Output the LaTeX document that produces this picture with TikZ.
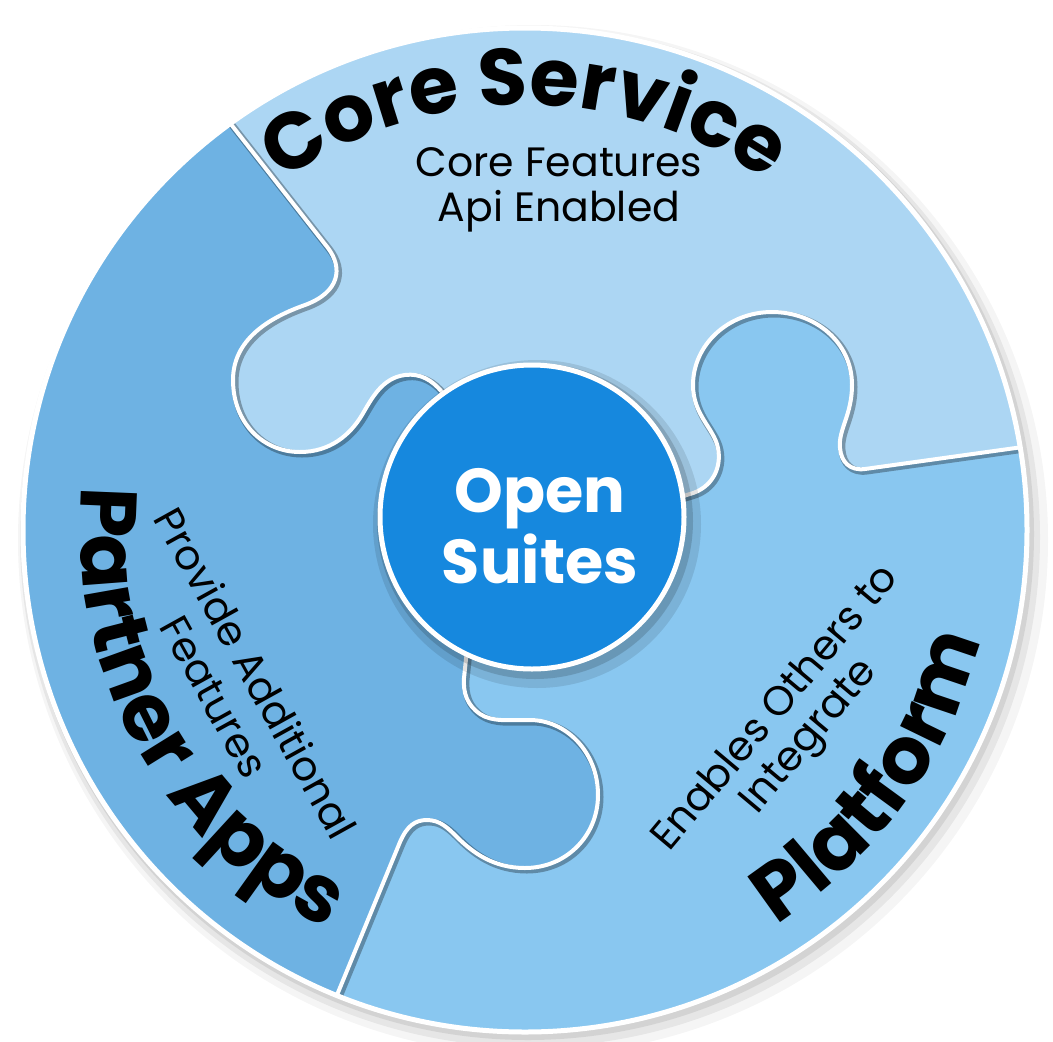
\documentclass[tikz,border=0pt]{standalone}
\usepackage{fontspec}
\setmainfont{Poppins}
\usetikzlibrary{decorations.text}
\definecolor{coreC}{RGB}{172,214,243}
\definecolor{partC}{RGB}{110,178,227}
\definecolor{platC}{RGB}{137,199,240}
\definecolor{hubC}{RGB}{22,136,222}
\newcommand\pzTitle{\fontsize{80}{84}\selectfont\bfseries}
\begin{document}
\begin{tikzpicture}[x=1pt,y=-1pt,
  bline/.style={draw=white, line width=4pt, line join=round},
  bshadow/.style={draw=black, opacity=0.3, line width=7pt, line join=round},
  subtxt/.style={font=\fontsize{41}{48}\selectfont, text=black, inner sep=0pt},
  titlepath/.style={decorate, decoration={text along path, text={|\pzTitle|#1}, text align=center}}
]
\useasboundingbox (0,0) rectangle (1053,1042);
\fill[white] (0,0) rectangle (1053,1042);
\coordinate (O) at (525,530);
\coordinate (H) at (532,517);
% outer soft shadow
\fill[black,opacity=0.04] (533,540) circle (515);
\fill[black,opacity=0.06] (530,537) circle (510);
\fill[black,opacity=0.08] (528,534) circle (506);
\begin{scope}
\clip (O) circle (502);
\fill[partC] (O) circle (510);
% Core Service piece
\fill[coreC] (208,95) -- (328,248) .. controls (343,268) and (340,292) .. (305,305)
  .. controls (268,318) and (233,340) .. (233,380)
  .. controls (233,423) and (263,452) .. (300,452)
  .. controls (330,452) and (350,435) .. (362,415)
  .. controls (372,398) and (382,378) .. (405,375)
  .. controls (420,373) and (432,380) .. (442,392) -- (455,410)
  -- (532,517) -- (670,500) -- (690,494)
  .. controls (712,488) and (722,468) .. (718,448)
  .. controls (714,428) and (693,415) .. (693,385)
  .. controls (693,345) and (728,312) .. (772,312)
  .. controls (815,312) and (852,342) .. (852,385)
  .. controls (852,415) and (838,430) .. (840,448)
  .. controls (841,462) and (850,471) .. (865,469)
  -- (1030,446) -- (1080,440) -- (1080,-20) -- (208,-20) -- cycle;
% Platform piece
\fill[platC] (670,500) -- (690,494)
  .. controls (712,488) and (722,468) .. (718,448)
  .. controls (714,428) and (693,415) .. (693,385)
  .. controls (693,345) and (728,312) .. (772,312)
  .. controls (815,312) and (852,342) .. (852,385)
  .. controls (852,415) and (838,430) .. (840,448)
  .. controls (841,462) and (850,471) .. (865,469)
  -- (1030,446) -- (1080,440) -- (1080,1080) -- (330,1080) -- (330,1012)
  -- (400,842) .. controls (407,826) and (415,820) .. (427,820)
  .. controls (440,820) and (448,828) .. (457,837)
  .. controls (472,852) and (493,868) .. (525,868)
  .. controls (566,868) and (598,836) .. (598,795)
  .. controls (598,752) and (566,720) .. (530,720)
  .. controls (508,720) and (492,722) .. (480,714)
  .. controls (467,705) and (463,693) .. (464,678) -- (468,640)
  -- (532,517) -- cycle;
% boundary shadows
\begin{scope}[shift={(2,2)}]
\draw[bshadow] (208,95) -- (328,248) .. controls (343,268) and (340,292) .. (305,305)
  .. controls (268,318) and (233,340) .. (233,380)
  .. controls (233,423) and (263,452) .. (300,452)
  .. controls (330,452) and (350,435) .. (362,415)
  .. controls (372,398) and (382,378) .. (405,375)
  .. controls (420,373) and (432,380) .. (442,392) -- (455,410);
\draw[bshadow] (670,500) -- (690,494)
  .. controls (712,488) and (722,468) .. (718,448)
  .. controls (714,428) and (693,415) .. (693,385)
  .. controls (693,345) and (728,312) .. (772,312)
  .. controls (815,312) and (852,342) .. (852,385)
  .. controls (852,415) and (838,430) .. (840,448)
  .. controls (841,462) and (850,471) .. (865,469)
  -- (1030,446) -- (1080,440);
\draw[bshadow] (330,1012)
  -- (400,842) .. controls (407,826) and (415,820) .. (427,820)
  .. controls (440,820) and (448,828) .. (457,837)
  .. controls (472,852) and (493,868) .. (525,868)
  .. controls (566,868) and (598,836) .. (598,795)
  .. controls (598,752) and (566,720) .. (530,720)
  .. controls (508,720) and (492,722) .. (480,714)
  .. controls (467,705) and (463,693) .. (464,678) -- (468,640);
\end{scope}
% white boundaries
\draw[bline] (208,95) -- (328,248) .. controls (343,268) and (340,292) .. (305,305)
  .. controls (268,318) and (233,340) .. (233,380)
  .. controls (233,423) and (263,452) .. (300,452)
  .. controls (330,452) and (350,435) .. (362,415)
  .. controls (372,398) and (382,378) .. (405,375)
  .. controls (420,373) and (432,380) .. (442,392) -- (455,410);
\draw[bline] (670,500) -- (690,494)
  .. controls (712,488) and (722,468) .. (718,448)
  .. controls (714,428) and (693,415) .. (693,385)
  .. controls (693,345) and (728,312) .. (772,312)
  .. controls (815,312) and (852,342) .. (852,385)
  .. controls (852,415) and (838,430) .. (840,448)
  .. controls (841,462) and (850,471) .. (865,469)
  -- (1030,446) -- (1080,440);
\draw[bline] (330,1012)
  -- (400,842) .. controls (407,826) and (415,820) .. (427,820)
  .. controls (440,820) and (448,828) .. (457,837)
  .. controls (472,852) and (493,868) .. (525,868)
  .. controls (566,868) and (598,836) .. (598,795)
  .. controls (598,752) and (566,720) .. (530,720)
  .. controls (508,720) and (492,722) .. (480,714)
  .. controls (467,705) and (463,693) .. (464,678) -- (468,640);
% hub shadow
\fill[black, opacity=0.10] (537,524) circle (164);
\fill[black, opacity=0.15] (535,521) circle (158);
\end{scope}
% rim
\draw[white, line width=5pt] (O) circle (502);
% hub
\fill[hubC] (H) circle (151);
\draw[white, line width=5pt] (H) circle (152);
\node[font=\fontsize{62}{71}\selectfont\bfseries, text=white, align=center, inner sep=0pt] (hub) at (540,526) {Open\\Suites};
% titles along arcs
\path[titlepath={Core Service}] (O) ++(-150:425) arc[start angle=-150, end angle=-30, radius=425];
\path[titlepath={Partner Apps}] (O) ++(-149:445) arc[start angle=-149, end angle=-269, radius=445];
\path[titlepath={Platform}] (O) ++(95:468) arc[start angle=95, end angle=-24, radius=468];
% sub texts
\node[subtxt] (corefeat1) at (559,162) {Core Features};
\node[subtxt] (corefeat2) at (559,211) {Api Enabled};
\node[subtxt, rotate=-61] (provide1) at (256,673) {Provide Additional};
\node[subtxt, rotate=-61] (provide2) at (214,697) {Features};
\node[subtxt, rotate=50] (enables1) at (773,706) {Enables Others to};
\node[subtxt, rotate=50] (enables2) at (811,738) {Integrate};
\end{tikzpicture}
\end{document}
